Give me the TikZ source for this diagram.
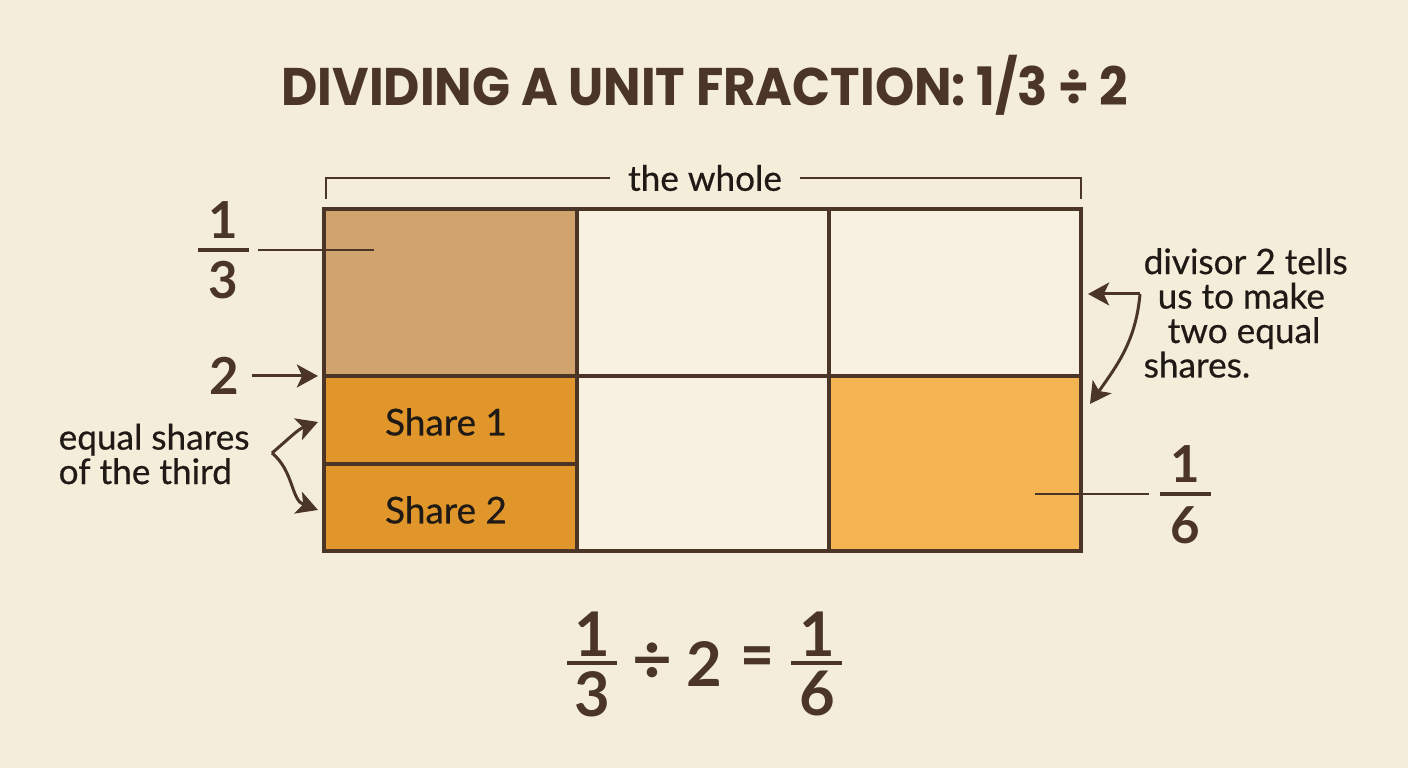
\documentclass[tikz,border=0pt]{standalone}
\usepackage{fontspec}
\setmainfont{Lato}
\newfontfamily\titlefont{Poppins}
\newfontfamily\medfont[FakeBold=0.5]{Lato}
\usetikzlibrary{positioning}
\usetikzlibrary{calc}
\usetikzlibrary{arrows.meta}
\definecolor{paper}{HTML}{F4EDDA}
\definecolor{ink}{HTML}{4A3526}
\definecolor{txt}{HTML}{1F1A15}
\definecolor{thirdfill}{HTML}{D0A46C}
\definecolor{sharefill}{HTML}{E0962A}
\definecolor{sixthfill}{HTML}{F5B452}
\definecolor{blankfill}{HTML}{F8F1E2}
\tikzset{%
  gridline/.style = {draw=ink, line width=1.2pt, line cap=rect},
  leader/.style = {draw=ink, line width=0.75pt},
  pointer/.style = {-{Stealth[length=6pt,width=6.5pt,inset=1.5pt]},
        draw=ink, line width=0.85pt},
  lab/.style = {text=txt, inner sep=0pt,
        font=\medfont\fontsize{10}{9.8}\selectfont},
  digit/.style = {text=ink, inner sep=0pt,
        font=\bfseries\fontsize{14.5}{16}\selectfont},
  bigdigit/.style = {text=ink, inner sep=0pt,
        font=\bfseries\fontsize{17.5}{20}\selectfont},
  fracbar/.style = {draw=ink, line width=1.1pt}
}
\begin{document}
\begin{tikzpicture}[x=0.01cm,y=0.01cm]
    \useasboundingbox[fill=paper] (0,0) rectangle (1408,768);
    \node[text=ink, inner sep=0pt, font=\titlefont\bfseries\fontsize{14.2}{16}\selectfont]
        (title) at (705,683) {\scalebox{1}[1.06]{DIVIDING A UNIT FRACTION: 1/3 ÷ 2}};
    % the whole
    \node[lab, inner xsep=1.7mm] (whole) at (705,590) {the whole};
    \coordinate (brl) at (326,569);
    \coordinate (brr) at (1081,569);
    \draw[leader] (whole.west) -| (brl);
    \draw[leader] (whole.east) -| (brr);
    % cells
    \fill[blankfill] (324,217) rectangle (1081,559);
    \fill[thirdfill] (324,392) rectangle (577,559);
    \fill[sharefill] (324,217) rectangle (577,392);
    \fill[sixthfill] (829,217) rectangle (1081,392);
    \draw[gridline] (324,217) rectangle (1081,559);
    \draw[gridline] (577,217) -- (577,559);
    \draw[gridline] (829,217) -- (829,559);
    \draw[gridline] (324,392) -- (1081,392);
    \draw[gridline] (324,304) -- (577,304);
    \node[lab, font=\medfont\fontsize{10.5}{12}\selectfont] (share1) at (446,346) {Share 1};
    \node[lab, font=\medfont\fontsize{10.5}{12}\selectfont] (share2) at (446,258) {Share 2};
    % one third
    \node[digit] (third-num) at (223,548) {1};
    \node[digit] (third-den) at (223,488) {3};
    \draw[fracbar] (198,518) -- (249,518);
    \coordinate (c-third) at (374,518);
    \draw[leader] (258,518) -- (c-third);
    % divisor
    \node[digit] (two) at (224,392) {2};
    \coordinate (in-two) at (318,392);
    \draw[pointer] ([xshift=1.3mm]two.east) -- (in-two);
    % equal shares
    \node[lab, anchor=west, align=left] (shares) at (58,314)
        {equal shares\\of the third};
    \coordinate (fork) at (272,315);
    \coordinate (in-s1) at (318,346);
    \coordinate (in-s2) at (318,258);
    \draw[pointer] (fork) to[out=40,in=200] (in-s1);
    \draw[pointer] (fork) to[out=-40,in=160] (in-s2);
    % note on the right
    \node[lab, anchor=west, align=left] (divnote) at (1143,455)
        {divisor 2 tells\\\hspace*{1.4mm}us to make\\\hspace*{2.4mm}two equal\\shares.};
    \coordinate (bend) at (1140,474);
    \coordinate (top-in) at (1088,474);
    \coordinate (low-in) at (1090,364);
    \draw[pointer] (bend) -- (top-in);
    \draw[pointer] (bend) to[out=-95,in=55] (low-in);
    % one sixth
    \node[digit] (sixth-num) at (1185,304) {1};
    \node[digit] (sixth-den) at (1185,243) {6};
    \draw[fracbar] (1160,274) -- (1211,274);
    \coordinate (c-sixth) at (1035,274);
    \draw[leader] (c-sixth) -- (1149,274);
    % equation
    \node[bigdigit] (eq-n1) at (592,134) {1};
    \node[bigdigit] (eq-d1) at (592,74) {3};
    \draw[fracbar] (567,105) -- (617,105);
    \node[bigdigit] (eq-div) at (652,105) {\scalebox{1.12}{÷}};
    \node[bigdigit] (eq-two) at (704,104) {2};
    \node[bigdigit] (eq-eq) at (757,105) {\scalebox{0.95}[1.1]{=}};
    \node[bigdigit] (eq-n2) at (817,134) {1};
    \node[bigdigit] (eq-d2) at (817,74) {6};
    \draw[fracbar] (791,105) -- (842,105);
\end{tikzpicture}
\end{document}
